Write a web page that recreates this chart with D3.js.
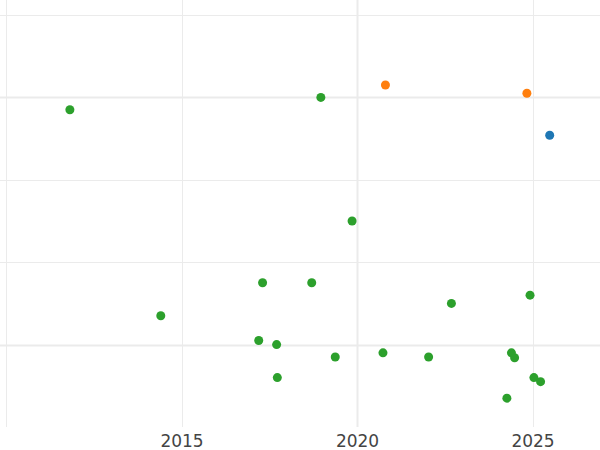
<!DOCTYPE html>
<html>
<head>
<meta charset="utf-8">
<script src="https://cdn.jsdelivr.net/npm/d3@7/dist/d3.min.js"></script>
<style>
  html, body { margin: 0; padding: 0; background: #fff; }
  svg { display: block; }
</style>
</head>
<body>
<svg id="chart" width="600" height="450"></svg>
<script>
// ---- data ----
const greenX = [2011.82, 2018.97, 2019.86, 2017.31, 2018.71, 2014.41, 2017.20, 2017.71, 2017.73,
                2019.38, 2020.74, 2022.04, 2022.69, 2024.40, 2024.49, 2024.27, 2025.04, 2025.23, 2024.93];
const greenY = [3.85, 4.00, 2.50, 1.75, 1.75, 1.35, 1.05, 1.00, 0.60,
                0.85, 0.90, 0.85, 1.50, 0.90, 0.84, 0.35, 0.60, 0.55, 1.60];
const orangeX = [2020.81, 2024.84];
const orangeY = [4.15, 4.05];
const blueX = [2025.49];
const blueY = [3.54];
const xTicks = [2010, 2015, 2020, 2025];
const xTickLabels = ["", "2015", "2020", "2025"];
const yTicks = [1, 2, 3, 4, 5];
const strongX = [2020];
const strongY = [1, 4];

// ---- layout ----
const W = 600, H = 450;
const plotBottom = 427;
const svg = d3.select("#chart");

const x = d3.scaleLinear().domain([2009.829, 2026.923]).range([0, W]);
const y = d3.scaleLinear().domain([0, 5.182]).range([plotBottom, 0]);

const gridColor = "#ebebeb";

// horizontal grid
svg.append("g").selectAll("line").data(yTicks).join("line")
  .attr("x1", 0).attr("x2", W)
  .attr("y1", d => Math.round(y(d)) + 0.5).attr("y2", d => Math.round(y(d)) + 0.5)
  .attr("stroke", gridColor)
  .attr("stroke-width", d => strongY.includes(d) ? 2 : 1);

// vertical grid
svg.append("g").selectAll("line").data(xTicks).join("line")
  .attr("x1", d => Math.round(x(d)) + 0.5).attr("x2", d => Math.round(x(d)) + 0.5)
  .attr("y1", 0).attr("y2", plotBottom)
  .attr("stroke", gridColor)
  .attr("stroke-width", d => strongX.includes(d) ? 2 : 1);

// x axis labels
const xAxis = d3.axisBottom(x).tickValues(xTicks)
  .tickFormat((d, i) => xTickLabels[i]).tickSize(0).tickPadding(0);
const gx = svg.append("g").attr("transform", `translate(0,${plotBottom})`).call(xAxis);
gx.select(".domain").remove();
gx.selectAll("text")
  .attr("dy", null)
  .attr("y", 20)
  .attr("font-family", "DejaVu Sans, sans-serif")
  .attr("font-size", 17)
  .attr("fill", "#444");

// points
function drawSeries(xs, ys, color) {
  const pts = xs.map((v, i) => [v, ys[i]]);
  svg.append("g").selectAll("circle").data(pts).join("circle")
    .attr("cx", d => x(d[0])).attr("cy", d => y(d[1]))
    .attr("r", 4.5).attr("fill", color);
}
drawSeries(greenX, greenY, "#2ca02c");
drawSeries(orangeX, orangeY, "#ff7f0e");
drawSeries(blueX, blueY, "#1f77b4");
</script>
</body>
</html>
